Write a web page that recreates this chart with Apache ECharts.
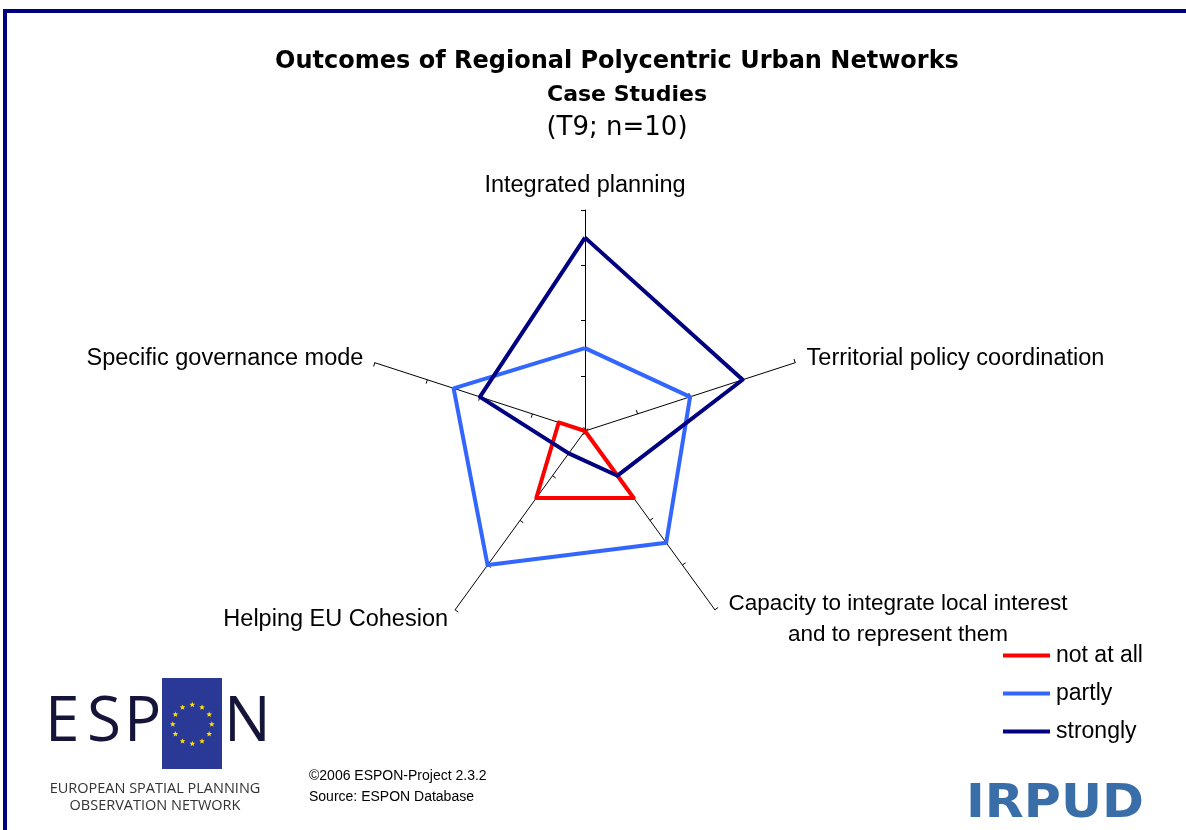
<!DOCTYPE html>
<html>
<head>
<meta charset="utf-8">
<script src="https://cdn.jsdelivr.net/npm/echarts@6/dist/echarts.min.js"></script>
<style>
html,body{margin:0;padding:0;background:#fff;}
#chart{width:1186px;height:830px;}
</style>
</head>
<body>
<div id="chart"></div>
<script>
// Data
const indicators = ['Integrated planning', 'Specific governance mode', 'Helping EU Cohesion', 'Capacity to integrate local interest\nand to represent them', 'Territorial policy coordination'];
const axisMax = 8;
const seriesNames = ['not at all', 'partly', 'strongly'];
const notAtAll = [0, 1, 3, 3, 0];
const partly = [3, 5, 6, 5, 4];
const strongly = [7, 4, 1, 2, 6];

const colors = ['#ff0000', '#3366ff', '#000080'];

const chart = echarts.init(document.getElementById('chart'), null, {renderer: 'canvas'});

// star shapes for logo (decorative)
const stars = [];
for (let i = 0; i < 12; i++) {
  const a = i * Math.PI / 6;
  const cx = 192.3 + 19.5 * Math.sin(a), cy = 724.3 - 19.5 * Math.cos(a);
  const pts = [];
  for (let k = 0; k < 10; k++) {
    const r = k % 2 === 0 ? 3 : 1.3;
    const t = -Math.PI / 2 + k * Math.PI / 5;
    pts.push([cx + r * Math.cos(t), cy + r * Math.sin(t)]);
  }
  stars.push({type: 'polygon', shape: {points: pts}, style: {fill: '#ffe000'}, z: 101});
}

const option = {
  backgroundColor: '#ffffff',
  animation: false,
  color: colors,
  legend: {
    orient: 'vertical',
    left: 998,
    top: 639,
    icon: 'rect',
    itemWidth: 47,
    itemHeight: 4,
    itemGap: 15,
    data: seriesNames,
    textStyle: {fontFamily: 'Liberation Sans', fontSize: 23, color: '#000', padding: [0, 0, 0, 1]}
  },
  radar: {
    center: [585, 431],
    radius: 221,
    startAngle: 90,
    splitNumber: 4,
    shape: 'polygon',
    nameGap: 12,
    indicator: indicators.map(n => ({name: n, min: 0, max: axisMax})),
    axisName: {
      color: '#000',
      fontFamily: 'Liberation Sans',
      fontSize: 23.5,
      formatter: function (name) {
        if (name.indexOf('\n') >= 0) {
          return name.split('\n').map(s => '{c|' + s + '}').join('\n');
        }
        return name;
      },
      rich: {
        c: {width: 352, align: 'center', fontFamily: 'Liberation Sans', fontSize: 22.5, color: '#000', lineHeight: 31}
      }
    },
    axisLine: {show: true, lineStyle: {color: '#000', width: 1}},
    axisTick: {show: true, length: 4, lineStyle: {color: '#000', width: 1}},
    axisLabel: {show: false},
    splitLine: {show: false},
    splitArea: {show: false}
  },
  series: [{
    type: 'radar',
    symbol: 'none',
    data: [
      {name: seriesNames[0], value: notAtAll, lineStyle: {color: colors[0], width: 4}, itemStyle: {color: colors[0]}},
      {name: seriesNames[1], value: partly, lineStyle: {color: colors[1], width: 4}, itemStyle: {color: colors[1]}},
      {name: seriesNames[2], value: strongly, lineStyle: {color: colors[2], width: 4}, itemStyle: {color: colors[2]}}
    ]
  }],
  graphic: [
    {type: 'rect', shape: {x: 5, y: 11, width: 1300, height: 1000}, style: {fill: 'none', stroke: '#000080', lineWidth: 4}, z: 100},
    {type: 'text', x: 617, y: 62, style: {text: 'Outcomes of Regional Polycentric Urban Networks', font: 'bold 24px "DejaVu Sans"', fill: '#000', textAlign: 'center', textVerticalAlign: 'middle'}},
    {type: 'text', x: 627, y: 95, style: {text: 'Case Studies', font: 'bold 22px "DejaVu Sans"', fill: '#000', textAlign: 'center', textVerticalAlign: 'middle'}},
    {type: 'text', x: 617, y: 128, style: {text: '(T9; n=10)', font: '26px "DejaVu Sans"', fill: '#000', textAlign: 'center', textVerticalAlign: 'middle'}},
    // ESPON logo
    {type: 'text', x: 45, y: 723, style: {text: 'E', font: '62px "Open Sans"', fill: '#15153a', textVerticalAlign: 'middle'}},
    {type: 'text', x: 87, y: 723, style: {text: 'S', font: '62px "Open Sans"', fill: '#15153a', textVerticalAlign: 'middle'}},
    {type: 'text', x: 124, y: 723, style: {text: 'P', font: '62px "Open Sans"', fill: '#15153a', textVerticalAlign: 'middle'}},
    {type: 'rect', shape: {x: 162, y: 678, width: 60, height: 91}, style: {fill: '#2b3996'}, z: 100},
    ...stars,
    {type: 'text', x: 224, y: 723, style: {text: 'N', font: '62px "Open Sans"', fill: '#15153a', textVerticalAlign: 'middle'}},
    {type: 'text', x: 155, y: 789, style: {text: 'EUROPEAN SPATIAL PLANNING', font: '14.5px "Open Sans"', fill: '#333', textAlign: 'center', textVerticalAlign: 'middle'}},
    {type: 'text', x: 155, y: 806, style: {text: 'OBSERVATION NETWORK', font: '14.5px "Open Sans"', fill: '#333', textAlign: 'center', textVerticalAlign: 'middle'}},
    // copyright
    {type: 'text', x: 309, y: 776, style: {text: '\u00a92006 ESPON-Project 2.3.2', font: '14px "Liberation Sans"', fill: '#000', textVerticalAlign: 'middle'}},
    {type: 'text', x: 309, y: 797, style: {text: 'Source: ESPON Database', font: '14px "Liberation Sans"', fill: '#000', textVerticalAlign: 'middle'}},
    // IRPUD
    {type: 'text', x: 966, y: 805, scaleX: 1.1, style: {text: 'IRPUD', font: 'bold 46px "DejaVu Sans"', fill: '#3a6ea8', textVerticalAlign: 'middle'}}
  ]
};
chart.setOption(option);
</script>
</body>
</html>
